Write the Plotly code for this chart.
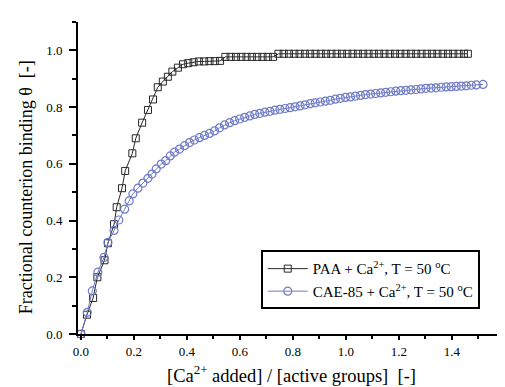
import plotly.graph_objects as go

paa_x = [0, 0.023, 0.046, 0.062, 0.089, 0.102, 0.125, 0.135, 0.155, 0.167,
         0.194, 0.207, 0.231, 0.253, 0.272, 0.290, 0.309, 0.328, 0.345, 0.366,
         0.385, 0.405, 0.425, 0.445, 0.465, 0.485, 0.505, 0.525, 0.545, 0.565,
         0.585, 0.605, 0.625, 0.645, 0.665, 0.685, 0.705, 0.725, 0.745, 0.765,
         0.785, 0.805, 0.825, 0.845, 0.865, 0.885, 0.905, 0.925, 0.945, 0.965,
         0.985, 1.005, 1.025, 1.045, 1.065, 1.085, 1.105, 1.125, 1.145, 1.165,
         1.185, 1.205, 1.225, 1.245, 1.265, 1.285, 1.305, 1.325, 1.345, 1.365,
         1.385, 1.405, 1.425, 1.445, 1.460]
paa_y = [0, 0.068, 0.127, 0.200, 0.260, 0.320, 0.387, 0.447, 0.514, 0.575,
         0.637, 0.690, 0.745, 0.790, 0.827, 0.870, 0.890, 0.907, 0.925, 0.939,
         0.951, 0.955, 0.958, 0.961, 0.961, 0.962, 0.962, 0.963, 0.977, 0.977,
         0.977, 0.977, 0.977, 0.977, 0.977, 0.977, 0.977, 0.977, 0.988, 0.988,
         0.988, 0.988, 0.988, 0.988, 0.988, 0.988, 0.988, 0.988, 0.988, 0.988,
         0.988, 0.988, 0.988, 0.988, 0.988, 0.988, 0.988, 0.988, 0.988, 0.988,
         0.988, 0.988, 0.988, 0.988, 0.988, 0.988, 0.988, 0.988, 0.988, 0.988,
         0.988, 0.988, 0.988, 0.988, 0.988]

cae_x = [0, 0.024, 0.043, 0.064, 0.087, 0.102, 0.125, 0.143, 0.165, 0.182,
         0.196, 0.215, 0.234, 0.253, 0.268, 0.284, 0.303, 0.320, 0.337, 0.353,
         0.372, 0.391, 0.410, 0.428, 0.447, 0.466, 0.485, 0.504, 0.523, 0.542,
         0.561, 0.580, 0.599, 0.618, 0.637, 0.656, 0.675, 0.694, 0.713, 0.732,
         0.751, 0.770, 0.789, 0.808, 0.827, 0.846, 0.865, 0.884, 0.903, 0.922,
         0.941, 0.960, 0.979, 0.998, 1.017, 1.036, 1.055, 1.074, 1.093, 1.112,
         1.131, 1.150, 1.169, 1.188, 1.207, 1.226, 1.245, 1.264, 1.283, 1.302,
         1.321, 1.340, 1.359, 1.378, 1.397, 1.416, 1.435, 1.454, 1.473, 1.492,
         1.517]
cae_y = [0, 0.076, 0.152, 0.218, 0.270, 0.323, 0.365, 0.402, 0.440, 0.469,
         0.494, 0.514, 0.532, 0.549, 0.564, 0.582, 0.599, 0.611, 0.628, 0.641,
         0.652, 0.664, 0.675, 0.684, 0.692, 0.700, 0.707, 0.716, 0.727, 0.737,
         0.745, 0.752, 0.758, 0.764, 0.769, 0.774, 0.778, 0.782, 0.785, 0.789,
         0.792, 0.795, 0.798, 0.801, 0.804, 0.808, 0.812, 0.815, 0.818, 0.821,
         0.824, 0.828, 0.831, 0.834, 0.836, 0.839, 0.841, 0.844, 0.846, 0.848,
         0.850, 0.852, 0.854, 0.856, 0.858, 0.859, 0.861, 0.862, 0.864, 0.866,
         0.867, 0.868, 0.870, 0.871, 0.872, 0.873, 0.874, 0.875, 0.877, 0.878,
         0.880]

x_ticks = [0.0, 0.2, 0.4, 0.6, 0.8, 1.0, 1.2, 1.4, 1.6]
y_ticks = [0.0, 0.2, 0.4, 0.6, 0.8, 1.0]

FONT = "Liberation Serif"
BLUE = "rgb(112,124,200)"
DARK = "rgb(40,40,40)"

fig = go.Figure()
fig.add_trace(go.Scatter(
    x=paa_x, y=paa_y, mode="lines+markers",
    name="PAA + Ca<sup>2+</sup>, T = 50 <sup>o</sup>C",
    line=dict(color=DARK, width=1),
    marker=dict(symbol="square-open", size=7, color=DARK, line=dict(width=1)),
    cliponaxis=False,
))
fig.add_trace(go.Scatter(
    x=cae_x, y=cae_y, mode="lines+markers",
    name="CAE-85 + Ca<sup>2+</sup>, T = 50 <sup>o</sup>C",
    line=dict(color=BLUE, width=1),
    marker=dict(symbol="circle-open", size=8, color=BLUE, line=dict(width=1.2)),
    cliponaxis=False,
))

fig.update_layout(
    width=505, height=387,
    margin=dict(l=70, r=8, t=14, b=61, autoexpand=False),
    paper_bgcolor="white", plot_bgcolor="white",
    font=dict(family=FONT, color="black", size=13),
    showlegend=True,
    legend=dict(
        x=0.428, y=0.268, xanchor="left", yanchor="top",
        bordercolor="black", borderwidth=2, bgcolor="white",
        font=dict(family=FONT, size=15, color="black"),
        itemwidth=40, tracegroupgap=0,
    ),
    xaxis=dict(
        range=[-0.011, 1.6], tickvals=x_ticks, tickformat=".1f",
        showgrid=False, zeroline=False, automargin=False,
        showline=True, linecolor="black", linewidth=2,
        ticks="outside", ticklen=4, tickwidth=2, tickcolor="black",
        minor=dict(ticks="outside", ticklen=3, tickwidth=1.5, dtick=0.1, tick0=0, tickcolor="black"),
        tickfont=dict(family=FONT, size=13, color="black"),
        title=dict(text="[Ca<sup>2+</sup> added] / [active groups]  [-]",
                   font=dict(family=FONT, size=18.5), standoff=11),
    ),
    yaxis=dict(
        range=[0, 1.1], tickvals=y_ticks, tickformat=".1f",
        showgrid=False, zeroline=False, automargin=False,
        showline=True, linecolor="black", linewidth=2,
        ticks="outside", ticklen=7, tickwidth=2, tickcolor="black",
        minor=dict(ticks="outside", ticklen=4, tickwidth=1.5, dtick=0.1, tick0=0, tickcolor="black"),
        tickfont=dict(family=FONT, size=13, color="black"),
        ticklabelstandoff=4,
    ),
    annotations=[dict(
        text="Fractional counterion binding θ  [-]",
        xref="paper", yref="paper", x=-0.122, y=0.47,
        xanchor="center", yanchor="middle", textangle=-90, showarrow=False,
        font=dict(family=FONT, size=18, color="black"),
    )],
)

fig.write_html("out.html")
